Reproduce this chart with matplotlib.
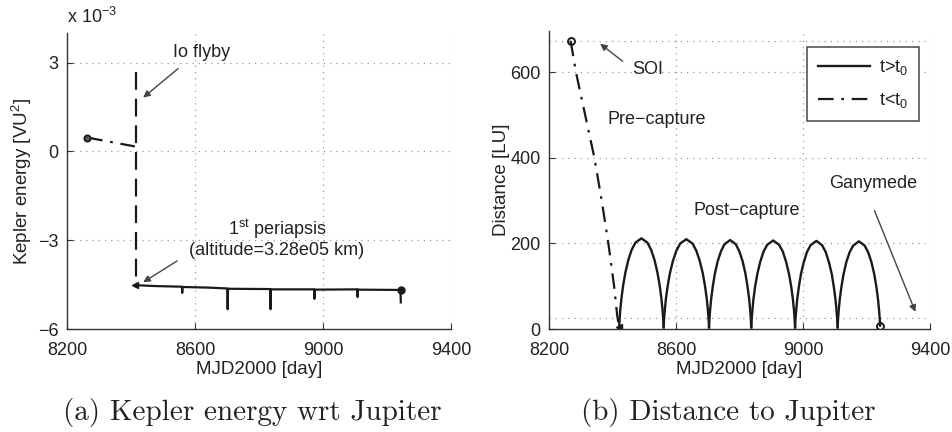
import matplotlib
matplotlib.use("Agg")
import matplotlib.pyplot as plt

plt.rcParams['font.family'] = ['Liberation Sans', 'DejaVu Sans']
plt.rcParams['mathtext.fontset'] = 'custom'
plt.rcParams['mathtext.rm'] = 'Liberation Sans'
plt.rcParams['mathtext.it'] = 'Liberation Sans:italic'
plt.rcParams['font.size'] = 13

# ---------------- data (a) Kepler energy, units of 1e-3 VU^2 ----------------
pre_t_a = [8263, 8412]
pre_e_a = [0.47, 0.17]
io_t = [8416, 8416]
io_e = [2.67, -4.45]
post_t_a = [8415, 8480, 8559, 8560, 8561, 8640, 8701, 8702, 8703, 8835, 8836, 8837,
            8972, 8973, 8974, 9107, 9108, 9109, 9242, 9243]
post_e_a = [-4.52, -4.55, -4.57, -4.78, -4.58, -4.60, -4.63, -5.33, -4.64, -4.65, -5.33, -4.66,
            -4.66, -4.98, -4.67, -4.66, -4.92, -4.67, -4.68, -5.10]
start_a = (8263, 0.47)
peri_a = (8412, -4.50)
end_a = (9243, -4.67)

# ---------------- data (b) distance to Jupiter [LU] ----------------
pre_t_b = [8268, 8285, 8314, 8343, 8366, 8387, 8405, 8415, 8421]
pre_r_b = [674, 600, 500, 400, 300, 200, 100, 30, 4]
arc_t = [
    [8421, 8422.4, 8424.5, 8428, 8433.3, 8440.5, 8449.6, 8460.2, 8472.1, 8491,
     8509.9, 8521.8, 8532.4, 8541.5, 8548.7, 8554, 8557.5, 8559.6, 8561],
    [8561, 8562.4, 8564.6, 8568.2, 8573.6, 8580.9, 8590.2, 8601, 8613.2, 8632.5,
     8651.8, 8664, 8674.8, 8684.1, 8691.4, 8696.9, 8700.4, 8702.6, 8704],
    [8704, 8705.3, 8707.3, 8710.7, 8715.7, 8722.5, 8731.1, 8741.2, 8752.5, 8770.5,
     8788.5, 8799.8, 8809.9, 8818.5, 8825.3, 8830.4, 8833.7, 8835.7, 8837],
    [8837, 8838.4, 8840.5, 8843.9, 8849.1, 8856.2, 8865.2, 8875.6, 8887.4, 8906,
     8924.6, 8936.4, 8946.8, 8955.8, 8962.9, 8968.1, 8971.6, 8973.6, 8975],
    [8975, 8976.3, 8978.4, 8981.7, 8986.8, 8993.6, 9002.3, 9012.5, 9023.9, 9042,
     9060.1, 9071.5, 9081.7, 9090.4, 9097.2, 9102.3, 9105.6, 9107.7, 9109],
    [9109, 9110.3, 9112.4, 9115.7, 9120.8, 9127.6, 9136.3, 9146.5, 9157.9, 9176,
     9194.1, 9205.5, 9215.7, 9224.4, 9231.2, 9236.3, 9239.6, 9241.7, 9243],
]
arc_r = [
    [4, 24, 45, 71, 101, 132, 161, 185, 202, 212, 202, 185, 161, 132, 101, 71, 45, 24, 4],
    [4, 23, 44, 71, 100, 131, 159, 183, 200, 210, 200, 183, 159, 131, 100, 71, 44, 23, 4],
    [4, 23, 44, 70, 99, 130, 158, 181, 198, 208, 198, 181, 158, 130, 99, 70, 44, 23, 4],
    [4, 23, 43, 70, 99, 129, 157, 181, 197, 207, 197, 181, 157, 129, 99, 70, 43, 23, 4],
    [4, 23, 43, 69, 98, 129, 156, 180, 196, 206, 196, 180, 156, 129, 98, 69, 43, 23, 4],
    [4, 23, 43, 69, 98, 128, 156, 179, 195, 205, 195, 179, 156, 128, 98, 69, 43, 23, 8],
]
soi_r = 674
ganymede_r = 26

xticks = [8200, 8600, 9000, 9400]

dashdot = (0, (7, 3.5, 1.2, 3.5))
dashed = (0, (8, 4))
gridstyle = dict(color='#9a9a9a', linestyle=(0, (1, 4)), linewidth=0.9)
lc = '#1a1a1a'
tc = '#222222'


def style_axes(ax):
    for s in ['top', 'right']:
        ax.spines[s].set_visible(False)
    for s in ['left', 'bottom']:
        ax.spines[s].set_color('#333333')
        ax.spines[s].set_linewidth(1.0)
    ax.tick_params(direction='in', length=4, color='#333333', labelcolor=tc)
    ax.tick_params(axis='x', pad=9)
    ax.tick_params(axis='y', pad=6)
    ax.set_xlim(8200, 9400)
    ax.set_xticks(xticks)
    ax.set_xticklabels([str(v) for v in xticks])
    ax.set_xlabel('MJD2000 [day]', color=tc, labelpad=2, fontsize=13.5)


fig = plt.figure(figsize=(9.52, 4.32), dpi=100)

# ---------------- panel (a) ----------------
ax1 = fig.add_axes([0.0704, 0.2384, 0.4034, 0.685])
style_axes(ax1)
ax1.set_ylim(-6, 4)
ax1.set_yticks([-6, -3, 0, 3])
ax1.set_yticklabels(['\u22126', '\u22123', '0', '3'])
for yv in [-3, 0, 3]:
    ax1.axhline(yv, **gridstyle, zorder=0)
for xv in [8600, 9000, 9400]:
    ax1.axvline(xv, **gridstyle, zorder=0)

ax1.plot(pre_t_a, pre_e_a, color=lc, lw=1.6, linestyle=dashdot)
ax1.plot(io_t, io_e, color=lc, lw=1.6, linestyle=dashed)
ax1.plot(post_t_a, post_e_a, color=lc, lw=1.6)
ax1.plot(*start_a, 'o', color=lc, ms=4.5, mfc='#555555', mew=1.3)
ax1.plot(*peri_a, '<', color=lc, ms=5)
ax1.plot(*end_a, 'o', color=lc, ms=5)

ax1.set_ylabel('Kepler energy [VU$^2$]', color=tc, labelpad=3, fontsize=13.5)
ax1.text(0.0, 1.02, 'x 10$^{-3}$', transform=ax1.transAxes, ha='left', va='bottom',
         fontsize=13, color=tc)

arrow = dict(arrowstyle='-|>', color='#444444', lw=1.0, mutation_scale=10, shrinkA=0, shrinkB=0)
ax1.annotate('', xy=(8438, 1.82), xytext=(8547, 2.8), arrowprops=arrow)
ax1.text(8620, 3.34, 'Io flyby', ha='center', va='center', color=tc)
ax1.annotate('', xy=(8438, -4.42), xytext=(8544, -3.7), arrowprops=arrow)
ax1.text(8856, -2.62, '1$^{\\mathrm{st}}$ periapsis', ha='center', va='center', color=tc)
ax1.text(8856, -3.34, '(altitude=3.28e05 km)', ha='center', va='center', color=tc)

# ---------------- panel (b) ----------------
ax2 = fig.add_axes([0.5767, 0.2384, 0.4002, 0.690])
style_axes(ax2)
ax2.set_ylim(0, 697)
ax2.set_yticks([0, 200, 400, 600])
for yv in [200, 400, 600, soi_r, ganymede_r]:
    ax2.axhline(yv, **gridstyle, zorder=0)
for xv in [8600, 9000, 9400]:
    ax2.axvline(xv, **gridstyle, zorder=0)

for i, (ts, rs) in enumerate(zip(arc_t, arc_r)):
    ax2.plot(ts, rs, color=lc, lw=1.7, label='t>t$_0$' if i == 0 else None)
ax2.plot(pre_t_b, pre_r_b, color=lc, lw=1.6, linestyle=dashdot, label='t<t$_0$')
ax2.plot(pre_t_b[0], pre_r_b[0], 'o', color=lc, ms=5, mfc='none', mew=1.4)
ax2.plot(pre_t_b[-1], pre_r_b[-1], '<', color=lc, ms=5)
ax2.plot(arc_t[-1][-1], arc_r[-1][-1], 'o', color=lc, ms=5, mfc='none', mew=1.4)

ax2.set_ylabel('Distance [LU]', color=tc, labelpad=0, fontsize=13.5)
ax2.annotate('', xy=(8361, 667), xytext=(8432, 626), arrowprops=arrow)
ax2.text(8512, 607, 'SOI', ha='center', va='center', color=tc)
ax2.text(8539, 491, 'Pre\u2212capture', ha='center', va='center', color=tc)
ax2.text(8822, 277, 'Post\u2212capture', ha='center', va='center', color=tc)
ax2.text(9221, 340, 'Ganymede', ha='center', va='center', color=tc)
ax2.annotate('', xy=(9354, 40), xytext=(9225, 277), arrowprops=arrow)

leg = ax2.legend(loc='upper right', bbox_to_anchor=(0.971, 0.946), handlelength=2.9,
                 fancybox=False, framealpha=1, edgecolor='#555555', borderpad=0.6,
                 labelspacing=0.8, handletextpad=0.5, borderaxespad=0)
leg.get_frame().set_linewidth(1.2)
for t in leg.get_texts():
    t.set_color(tc)

# ---------------- captions ----------------
fig.text(0.265, 0.044, '(a) Kepler energy wrt Jupiter', ha='center', va='center',
         fontsize=21, family='cmr10', color=tc)
fig.text(0.765, 0.044, '(b) Distance to Jupiter', ha='center', va='center',
         fontsize=21, family='cmr10', color=tc)

fig.savefig('out.png', dpi=100)
